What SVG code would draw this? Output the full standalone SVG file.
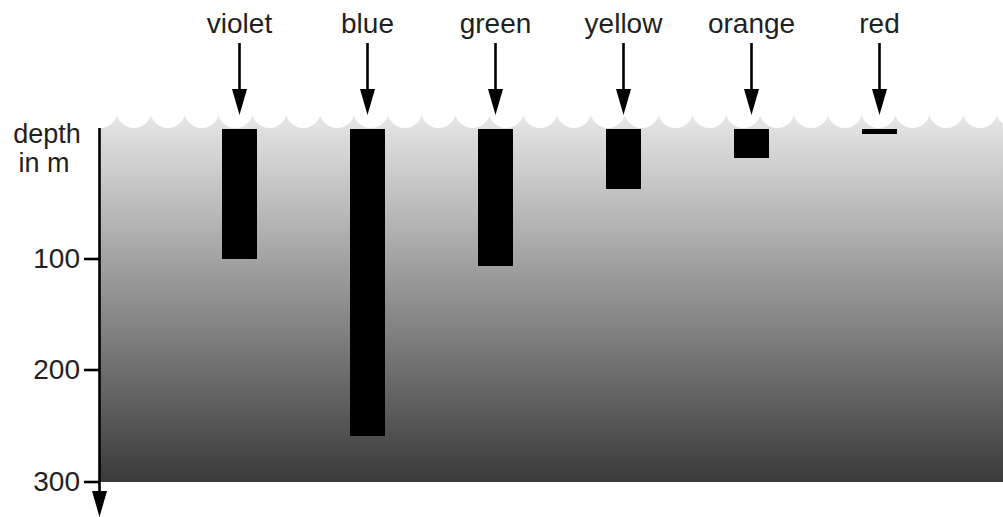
<svg xmlns="http://www.w3.org/2000/svg" width="1003" height="517" viewBox="0 0 1003 517">
<style>
text{font-family:"Liberation Sans",Arial,sans-serif;font-size:28px;fill:#231f20}
.lbl{text-anchor:middle}
.num{text-anchor:end}
.dep{font-size:27px;text-anchor:middle}
.bar{fill:#000}
.ln{stroke:#000;stroke-width:2.6;fill:none}
</style>
<defs>
<linearGradient id="water" x1="0" y1="0" x2="0" y2="1">
<stop offset="0" stop-color="#e8e8e8"/>
<stop offset="1" stop-color="#3a3a3a"/>
</linearGradient>
<marker id="ah" viewBox="0 0 26 15" refX="0" refY="7.5" markerWidth="26" markerHeight="15" markerUnits="userSpaceOnUse" orient="auto">
<path d="M0,0 L26,7.5 L0,15 Z" fill="#000"/>
</marker>
</defs>
<g id="water-body">
<rect x="100" y="112" width="903" height="370" fill="url(#water)"/>
<g fill="#fff">
<circle cx="100.1" cy="110.3" r="17.7"/><circle cx="134" cy="110.3" r="17.7"/><circle cx="167.8" cy="110.3" r="17.7"/><circle cx="201.7" cy="110.3" r="17.7"/><circle cx="235.5" cy="110.3" r="17.7"/><circle cx="269.4" cy="110.3" r="17.7"/><circle cx="303.2" cy="110.3" r="17.7"/><circle cx="337.1" cy="110.3" r="17.7"/><circle cx="370.9" cy="110.3" r="17.7"/><circle cx="404.8" cy="110.3" r="17.7"/><circle cx="438.6" cy="110.3" r="17.7"/><circle cx="472.5" cy="110.3" r="17.7"/><circle cx="506.3" cy="110.3" r="17.7"/><circle cx="540.2" cy="110.3" r="17.7"/><circle cx="574" cy="110.3" r="17.7"/><circle cx="607.9" cy="110.3" r="17.7"/><circle cx="641.7" cy="110.3" r="17.7"/><circle cx="675.6" cy="110.3" r="17.7"/><circle cx="709.4" cy="110.3" r="17.7"/><circle cx="743.3" cy="110.3" r="17.7"/><circle cx="777.1" cy="110.3" r="17.7"/><circle cx="811" cy="110.3" r="17.7"/><circle cx="844.8" cy="110.3" r="17.7"/><circle cx="878.7" cy="110.3" r="17.7"/><circle cx="912.5" cy="110.3" r="17.7"/><circle cx="946.4" cy="110.3" r="17.7"/><circle cx="980.2" cy="110.3" r="17.7"/><circle cx="1014.1" cy="110.3" r="17.7"/>
</g>
</g>
<g id="axis">
<line class="ln" x1="99.5" y1="128" x2="99.5" y2="491" marker-end="url(#ah)"/>
<line class="ln" x1="84" y1="259" x2="99.5" y2="259"/>
<line class="ln" x1="84" y1="370" x2="99.5" y2="370"/>
<line class="ln" x1="84" y1="482" x2="99.5" y2="482"/>
<text class="num" x="80" y="268">100</text>
<text class="num" x="80" y="379">200</text>
<text class="num" x="80" y="491">300</text>
<text class="dep" x="47" y="143">depth</text>
<text class="dep" x="44" y="172">in m</text>
</g>
<g id="violet"><text class="lbl" x="239.5" y="33">violet</text><rect class="bar" x="222" y="129" width="35" height="130"/></g>
<g id="blue"><text class="lbl" x="367.5" y="33">blue</text><rect class="bar" x="350" y="129" width="35" height="307"/></g>
<g id="green"><text class="lbl" x="495.5" y="33">green</text><rect class="bar" x="478" y="129" width="35" height="137"/></g>
<g id="yellow"><text class="lbl" x="623.5" y="33">yellow</text><rect class="bar" x="606" y="129" width="35" height="60"/></g>
<g id="orange"><text class="lbl" x="751.5" y="33">orange</text><rect class="bar" x="734" y="129" width="35" height="29"/></g>
<g id="red"><text class="lbl" x="879.5" y="33">red</text><rect class="bar" x="862" y="129" width="35" height="5"/></g>
<g id="connectors">
<line class="ln" x1="239.5" y1="43" x2="239.5" y2="89" marker-end="url(#ah)"/>
<line class="ln" x1="367.5" y1="43" x2="367.5" y2="89" marker-end="url(#ah)"/>
<line class="ln" x1="495.5" y1="43" x2="495.5" y2="89" marker-end="url(#ah)"/>
<line class="ln" x1="623.5" y1="43" x2="623.5" y2="89" marker-end="url(#ah)"/>
<line class="ln" x1="751.5" y1="43" x2="751.5" y2="89" marker-end="url(#ah)"/>
<line class="ln" x1="879.5" y1="43" x2="879.5" y2="89" marker-end="url(#ah)"/>
</g>
</svg>
